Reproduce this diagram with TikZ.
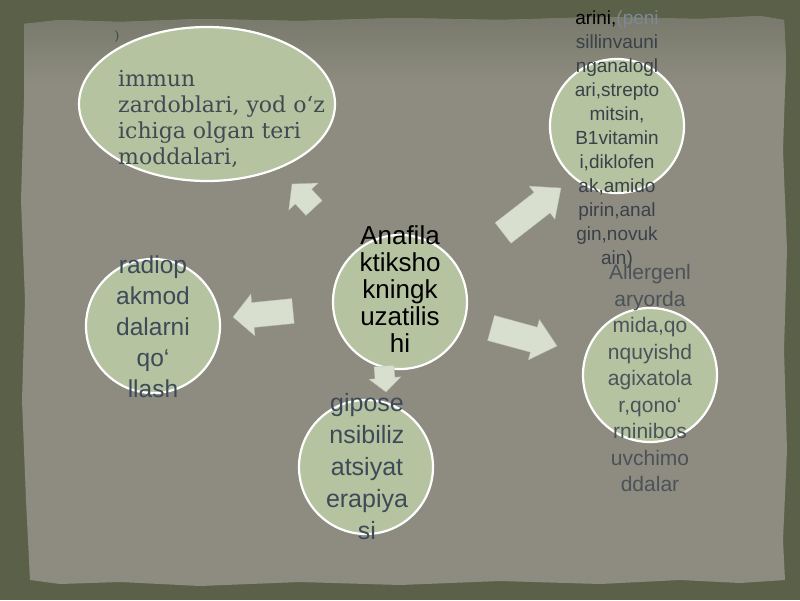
\documentclass[tikz,border=0pt]{standalone}
\usepackage{fontspec}
\setmainfont{Liberation Sans}
\newfontfamily\serifface{DejaVu Serif}
\usetikzlibrary{calc,shapes.geometric}
\definecolor{frameolive}{HTML}{5B6149}
\definecolor{paper}{HTML}{8E8C80}
\definecolor{paperdark}{HTML}{77796B}
\definecolor{bubblefill}{HTML}{B5C3A1}
\definecolor{arrowfill}{HTML}{D8DFCF}
\definecolor{slate}{HTML}{3D4A57}
\definecolor{grayink}{HTML}{4B5259}
\definecolor{darkink}{HTML}{394149}
\definecolor{fadedink}{HTML}{7D8893}
\definecolor{serifink}{HTML}{414A52}
\tikzset{
  bubble/.style={circle, draw=white, line width=2.2pt, fill=bubblefill, minimum size=134pt, inner sep=0pt},
  sanstxt/.style={align=center, inner sep=0pt},
  blockarr/.style={fill=arrowfill, draw=arrowfill!85!black, line width=0.3pt}
}
% #1 tail, #2 tip, #3 half body width, #4 half head width, #5 head length
\newcommand\blockarrow[5]{%
  \coordinate (neck-#1) at ($(#2)!#5!(#1)$);
  \filldraw[blockarr] ($(#1)!#3!90:(#2)$) -- ($(neck-#1)!#3!-90:(#1)$) -- ($(neck-#1)!#4!-90:(#1)$)
    -- (#2) -- ($(neck-#1)!#4!90:(#1)$) -- ($(neck-#1)!#3!90:(#1)$) -- ($(#1)!#3!-90:(#2)$) -- cycle;}
\begin{document}
\begin{tikzpicture}[x=1pt,y=-1pt]
\useasboundingbox (0,0) rectangle (800,600);
\fill[frameolive] (0,0) rectangle (800,600);
\begin{scope}
\clip (24,24) -- (60,20) -- (120,22) -- (200,19) -- (300,21) -- (400,18) -- (500,20) -- (600,17) -- (700,19) -- (760,16) -- (784,20)
 -- (786,60) -- (783,150) -- (787,250) -- (784,350) -- (787,450) -- (783,540) -- (785,580)
 -- (740,583) -- (680,580) -- (600,584) -- (500,581) -- (400,585) -- (300,582) -- (200,586) -- (120,582) -- (60,584) -- (30,580)
 -- (26,500) -- (22,400) -- (25,300) -- (21,200) -- (24,100) -- cycle;
\fill[paper] (0,0) rectangle (800,600);
\shade[top color=paperdark, bottom color=paper] (0,14) rectangle (800,85);
\end{scope}

% bubbles
\node[ellipse, draw=white, line width=2.2pt, fill=bubblefill, minimum width=256pt, minimum height=154pt, inner sep=0pt] (serum) at (207,104) {};
\node[bubble] (center) at (400,302) {};
\node[bubble] (drugs) at (617,126) {};
\node[bubble] (allerg) at (650,375) {};
\node[bubble] (radio) at (153,326) {};
\node[bubble] (hypo) at (366,467) {};

% texts
\node[inner sep=0pt, text=serifink, font=\serifface\fontsize{13}{15}\selectfont] (paren) at (117,37) {)};
\node[anchor=west, align=left, inner sep=0pt, text=serifink, font=\serifface\fontsize{22}{26}\selectfont] (serumtxt) at (118,119)
  {immun\\zardoblari, yod o‘z\\ichiga olgan teri\\moddalari,};
\node[sanstxt, text=black, font=\fontsize{26}{27}\selectfont] (centertxt) at (400,289)
  {Anafila\\ktiksho\\kningk\\uzatilis\\hi};
\node[sanstxt, text=darkink, font=\fontsize{19}{24}\selectfont] (drugstxt) at (617,140)
  {{\color{black}arini,}{\color{fadedink}(peni}\\sillinvauni\\nganalogl\\ari,strepto\\mitsin,\\B1vitamin\\i,diklofen\\ak,amido\\pirin,anal\\gin,novuk\\ain)};
\node[sanstxt, text=grayink, font=\fontsize{21}{26.5}\selectfont] (allergtxt) at (650,378)
  {Allergenl\\aryorda\\mida,qo\\nquyishd\\agixatola\\r,qono‘\\rninibos\\uvchimo\\ddalar};
\node[sanstxt, text=slate, font=\fontsize{24.5}{31}\selectfont] (radiotxt) at (153,327)
  {radiop\\akmod\\dalarni\\qo‘\\llash};
\node[sanstxt, text=slate, font=\fontsize{25}{32}\selectfont] (hypotxt) at (367,467)
  {gipose\\nsibiliz\\atsiyat\\erapiya\\si};

% block arrows
\coordinate (a1t) at (314,208); \coordinate (a1h) at (292,184);
\coordinate (a2t) at (503,233); \coordinate (a2h) at (561,188);
\coordinate (a3t) at (293,311); \coordinate (a3h) at (233,317);
\coordinate (a4t) at (491,328); \coordinate (a4h) at (557,346);
\coordinate (a5t) at (384,366); \coordinate (a5h) at (386,392);
\blockarrow{a1t}{a1h}{11pt}{20pt}{17pt}
\blockarrow{a2t}{a2h}{13pt}{21pt}{24pt}
\blockarrow{a3t}{a3h}{12.5pt}{21pt}{20pt}
\blockarrow{a4t}{a4h}{13pt}{21pt}{24pt}
\blockarrow{a5t}{a5h}{10pt}{16pt}{14pt}
\end{tikzpicture}
\end{document}
